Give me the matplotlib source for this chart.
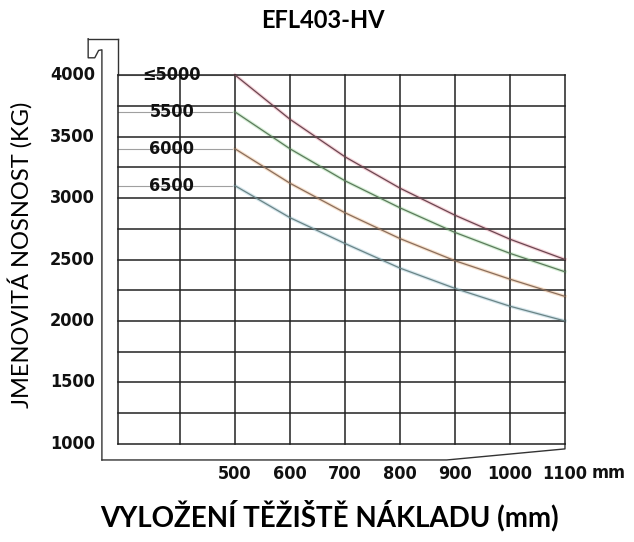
import matplotlib.pyplot as plt

# load centre distance (mm) and rated capacity (kg) per lift height
x_curve = [500, 600, 700, 800, 900, 1000, 1100]
cap_5000 = [4000, 3640, 3335, 3080, 2860, 2665, 2500]
cap_5500 = [3700, 3400, 3140, 2920, 2720, 2550, 2400]
cap_6000 = [3400, 3120, 2880, 2670, 2490, 2340, 2200]
cap_6500 = [3100, 2840, 2630, 2430, 2265, 2120, 2000]

curve_labels = ['\u22645000', '5500', '6000', '6500']
x_ticks = [500, 600, 700, 800, 900, 1000, 1100]
y_ticks = [1000, 1500, 2000, 2500, 3000, 3500, 4000]

# grid of the drawing
grid_x = [287, 400, 500, 600, 700, 800, 900, 1000, 1100]
grid_y = [1000 + 250 * i for i in range(13)]

curves = [cap_5000, cap_5500, cap_6000, cap_6500]
halo = ['#f5d3d9', '#d6efd6', '#f6e0cc', '#d5e6ec']
dark = ['#6a4650', '#5c7a5c', '#8a6e5c', '#6a8486']

fig = plt.figure(figsize=(6.34, 5.42), dpi=100)
ax = fig.add_axes([0, 0, 1, 1])
ax.set_xlim(72.7, 1225.5)
ax.set_ylim(203, 4610)
ax.axis('off')

narrow = dict(family='DejaVu Sans', fontstretch='condensed',
              fontweight='bold', fontsize=13, color='#111111')

for gx in grid_x:
    ax.plot([gx, gx], [1000, 4000], color='#222222', lw=1.1, zorder=3)
for gy in grid_y:
    ax.plot([287, 1100], [gy, gy], color='#222222', lw=1.1, zorder=3)

# outer frame with hook at top left
ax.plot([287, 287], [4000, 4295], color='#333333', lw=1.0)
ax.plot([233, 287], [4295, 4295], color='#333333', lw=1.0)
ax.plot([233, 233, 245, 252, 258, 258], [4295, 4140, 4140, 4200, 4205, 870],
        color='#333333', lw=1.0)
ax.plot([258, 885, 1100, 1100], [870, 870, 960, 1000], color='#333333', lw=1.0)

for ys, h, d in zip(curves, halo, dark):
    ax.plot([287, 500], [ys[0], ys[0]], color='#a0a0a0', lw=0.8, zorder=2)
    ax.plot(x_curve, ys, color=h, lw=2.5, zorder=2)
    ax.plot(x_curve, ys, color=d, lw=0.9, zorder=4)

for lab, ys in zip(curve_labels, curves):
    ax.text(385, ys[0], lab, ha='center', va='center', zorder=5, **narrow)

for yt in y_ticks:
    ax.text(245, yt, str(yt), ha='right', va='center', **narrow)
for xt in x_ticks:
    ax.text(xt, 756, str(xt), ha='center', va='center', **narrow)
ax.text(1180, 762, 'mm', ha='center', va='center', **narrow)

fig.text(0.51, 0.962, 'EFL403-HV', ha='center', va='center', fontsize=17,
         fontweight='bold', family='Lato')
fig.text(0.52, 0.048, 'VYLOŽENÍ TĚŽIŠTĚ NÁKLADU (mm)', ha='center',
         va='center', fontsize=20, fontweight='bold', family='Lato')
fig.text(0.032, 0.53, 'JMENOVITÁ NOSNOST (KG)', ha='center', va='center',
         rotation=90, fontsize=17, family='Lato')

fig.savefig('out.png', dpi=100)
